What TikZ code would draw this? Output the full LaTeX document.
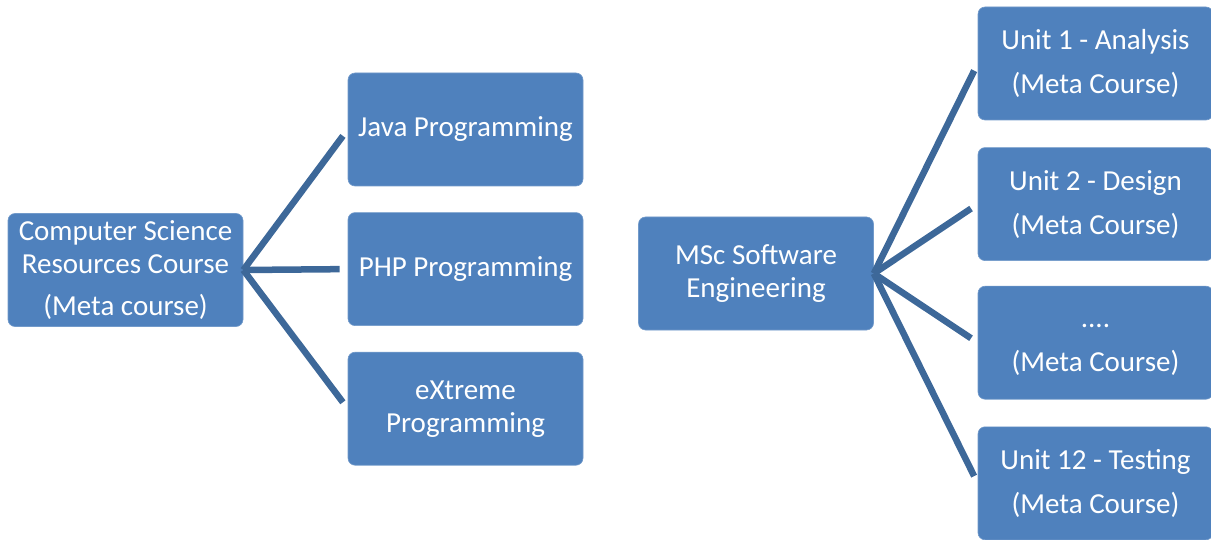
\documentclass[tikz,border=0pt]{standalone}
\usepackage{fontspec}
\setmainfont{Carlito}
\usetikzlibrary{positioning}
\definecolor{boxblue}{HTML}{4F81BD}
\definecolor{linkblue}{HTML}{3D6899}

\begin{document}
\begin{tikzpicture}[x=1pt, y=-1pt,
        box/.style={rectangle, rounded corners=7pt, fill=boxblue, draw=boxblue!80!white, line width=0.6pt,
            text=white, minimum width=235pt, minimum height=113pt, inner sep=0pt, align=center,
            font=\fontsize{29}{33}\selectfont},
        link/.style={linkblue, line width=6.5pt, shorten >=8pt}]
            \def\gap{26pt}
            \useasboundingbox (0,0) rectangle (1211,540);
            % left tree
            \node[box] (cs) at (125.5,270) {Computer Science\\Resources Course\\[9pt](Meta course)};
            \node[box] (java) at (465.5,129.5) {Java Programming};
            \node[box, below=\gap of java] (php) {PHP Programming};
            \node[box, below=\gap of php] (xp) {eXtreme\\Programming};
            \foreach \c in {java, php, xp} {
                \draw[link] (cs.east) -- (\c.west);
            };
            % right tree
            \node[box] (msc) at (756,273.5) {MSc Software\\Engineering};
            \node[box] (u1) at (1095.5,63.5) {Unit 1 - Analysis\\[11pt](Meta Course)};
            \node[box, below=27pt of u1] (u2) {Unit 2 - Design\\[11pt](Meta Course)};
            \node[box, below=25pt of u2] (udots) {\vphantom{Ug}....\\[11pt](Meta Course)};
            \node[box, below=27pt of udots] (u12) {Unit 12 - Testing\\[11pt](Meta Course)};
            \foreach \c in {u1, u2, udots, u12} {
                \draw[link] (msc.east) -- (\c.west);
            };
        \end{tikzpicture}
\end{document}
